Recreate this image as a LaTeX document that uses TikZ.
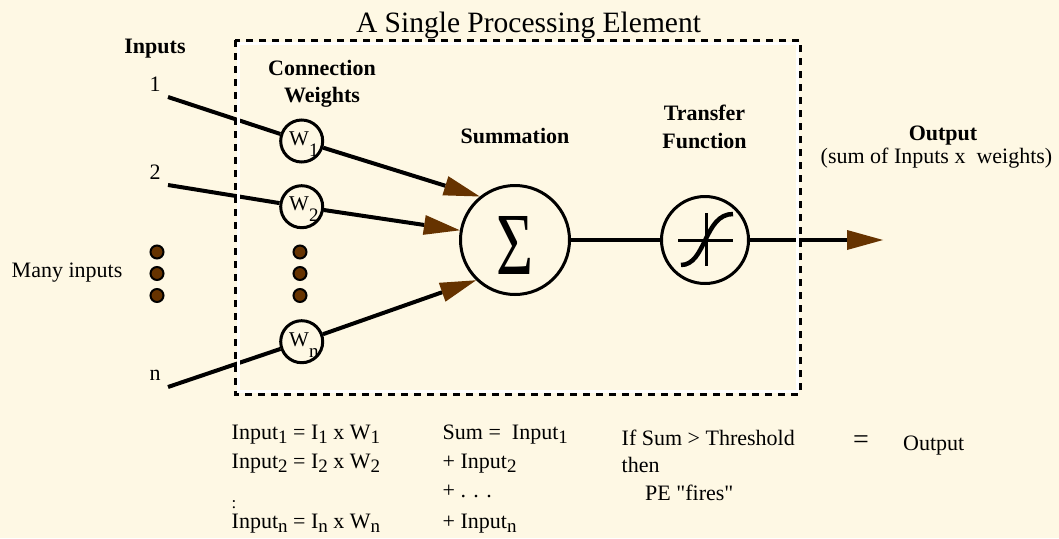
\documentclass[tikz,border=0pt]{standalone}
\usepackage{fontspec}
\usepackage{graphicx}
\setmainfont{Liberation Serif}[Ligatures=TeXOff]
\usetikzlibrary{arrows.meta}
\definecolor{bg}{RGB}{254,248,228}
\definecolor{brn}{RGB}{102,51,0}
\newcommand{\sbs}[1]{\raisebox{-4pt}{\fontsize{19}{19}\selectfont #1}}
\newcommand{\wsub}[1]{\raisebox{-11pt}{\fontsize{19}{19}\selectfont #1}}
\begin{document}
\begin{tikzpicture}[x=1pt,y=-1pt,
  txt/.style={inner sep=0pt, font=\fontsize{22}{26}\selectfont},
  bld/.style={inner sep=0pt, font=\fontsize{22}{26}\selectfont\bfseries},
  wgt/.style={circle, draw, line width=3pt, minimum size=42pt, inner sep=0pt, fill=bg},
  big/.style={circle, draw, line width=3pt, inner sep=0pt, fill=bg},
  wlab/.style={inner sep=0pt, anchor=base west, font=\fontsize{21}{21}\selectfont},
  wire/.style={line width=4pt},
  arr/.style={line width=4pt, -{Triangle[length=36pt,width=20pt,color=brn,line width=0pt]}},
  dotc/.style={circle, draw, line width=2pt, fill=brn, minimum size=13pt, inner sep=0pt},
]
\fill[bg] (0,0) rectangle (1059,538);
\useasboundingbox (0,0) rectangle (1059,538);

% title and labels
\node[txt, anchor=base, font=\fontsize{29.5}{32}\selectfont] (title) at (528.5,32) {A Single Processing Element};
\node[bld, anchor=base] (inl) at (155,53) {Inputs};
\node[bld, anchor=base] (cw1) at (322,75) {Connection};
\node[bld, anchor=base] (cw2) at (322,102) {Weights};
\node[bld, anchor=base] (suml) at (515,143) {Summation};
\node[bld, anchor=base] (tfl1) at (704.5,120) {Transfer};
\node[bld, anchor=base] (tfl2) at (704.5,148) {Function};
\node[bld, anchor=base] (outl) at (943,140) {Output};
\node[txt, anchor=base] (outs) at (936.5,163) {(sum of Inputs x~~weights)};

\node[txt, anchor=base] (n1) at (155,91) {1};
\node[txt, anchor=base] (n2) at (155,179) {2};
\node[txt, anchor=base] (nn) at (155,380) {n};
\node[txt, anchor=base west] (many) at (11.5,277) {Many inputs};

% input start points
\coordinate (in1) at (168,97);
\coordinate (in2) at (168,185);
\coordinate (inn) at (168,387);

% weight circles
\node[wgt] (w1) at (301.7,141) {};
\node[wgt] (w2) at (301.7,206.7) {};
\node[wgt] (wn) at (301.7,341.7) {};
\node[wlab] (w1t) at (289,145) {W\wsub{1}};
\node[wlab] (w2t) at (289,210.5) {W\wsub{2}};
\node[wlab] (wnt) at (289,346) {W\wsub{n}};

% dots
\foreach \yy [count=\k] in {252,273.5,295.5} {
  \node[dotc] (dl\k) at (157,\yy) {};
  \node[dotc] (dr\k) at (300,\yy) {};
}

% summation and transfer
\node[big, minimum size=109pt] (s) at (515,240) {};
\node[inner sep=0pt] (sig) at (515,245) {\resizebox{37pt}{58pt}{Σ}};
\node[big, minimum size=87pt] (tf) at (705,240) {};
\draw[line width=3pt] (678,240) -- (733,240);
\draw[line width=3pt] (706,213) -- (706,266);
\draw[line width=4.5pt] (681,265) .. controls (706,265) and (704,214) .. (733,214);

% connectors
\draw[wire] (in1) -- (w1);
\draw[wire] (in2) -- (w2);
\draw[wire] (inn) -- (wn);
\draw[arr] (w1) -- (s.129);
\draw[arr] (w2) -- (s.170);
\draw[arr] (wn) -- (s.226);
\draw[line width=3.5pt] (s) -- (tf);
\coordinate (oend) at (883,240);
\draw[arr] (tf) -- (oend);

% dashed box
\draw[white, line width=3pt] (238,43) rectangle (797,391);
\draw[black, line width=3pt, dash pattern=on 7pt off 6pt] (235,40) rectangle (800,394);

% bottom formulas
\node[txt, anchor=base west] (l1) at (231.5,439) {Input\sbs{1} = I\sbs{1} x W\sbs{1}};
\node[txt, anchor=base west] (l2) at (231.5,468) {Input\sbs{2} = I\sbs{2} x W\sbs{2}};
\node[inner sep=0pt, anchor=base west, font=\fontsize{17}{17}\selectfont] (lc) at (231.5,508) {:};
\node[txt, anchor=base west] (l3) at (231.5,528) {Input\sbs{n} = I\sbs{n} x W\sbs{n}};
\node[txt, anchor=base west] (r1) at (442.5,439) {Sum = ~Input\sbs{1}};
\node[txt, anchor=base west] (r2) at (442.5,468) {+ Input\sbs{2}};
\node[txt, anchor=base west] (r3) at (442.5,497) {+ . . .};
\node[txt, anchor=base west] (r4) at (442.5,528) {+ Input\sbs{n}};
\node[txt, anchor=base west] (t1) at (621.5,445) {If Sum > Threshold};
\node[txt, anchor=base west] (t2) at (621.5,472.5) {then};
\node[txt, anchor=base west] (t3) at (645,500) {PE "fires"};
\node[inner sep=0pt, font=\fontsize{28}{28}\selectfont] (eq) at (861,442) {=};
\node[txt, anchor=base west] (outr) at (903,450) {Output};
\end{tikzpicture}
\end{document}
